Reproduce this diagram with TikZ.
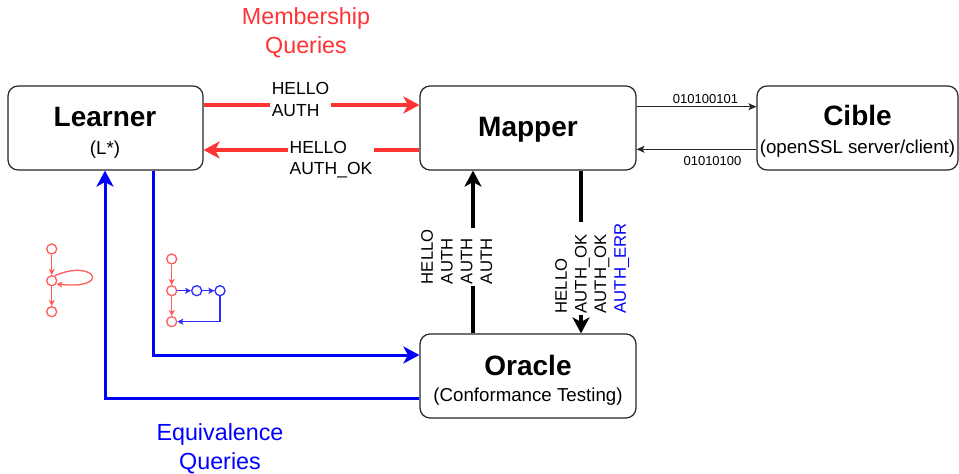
\documentclass[tikz,border=0pt]{standalone}
\usepackage{fontspec}
\setmainfont{Liberation Sans}
\usetikzlibrary{arrows.meta}
\definecolor{qred}{HTML}{FF3333}
\definecolor{qblue}{HTML}{0000FF}
\definecolor{sred}{HTML}{FF5C5C}
\definecolor{sblue}{HTML}{2B2BFF}
\begin{document}
\begin{tikzpicture}[x=1pt,y=-1pt,
  box/.style={draw=black!85, line width=1.2pt, rounded corners=10pt, fill=white, inner sep=0pt},
  title/.style={anchor=base, inner sep=0pt, font=\fontsize{28}{33}\selectfont\bfseries},
  sub/.style={anchor=base, inner sep=0pt, font=\fontsize{18.7}{22}\selectfont},
  qlabel/.style={align=center, inner sep=0pt, font=\fontsize{23.3}{28.5}\selectfont},
  msg/.style={fill=white, inner xsep=1.5pt, inner ysep=1pt, align=left, font=\fontsize{17.5}{21.5}\selectfont},
  vmsg/.style={fill=white, inner xsep=1.5pt, inner ysep=1pt, align=left, rotate=90, font=\fontsize{16.7}{19.7}\selectfont},
  bits/.style={anchor=base, inner sep=0pt, font=\fontsize{13}{15}\selectfont},
  bigtip/.style={-{Stealth[length=16pt,width=17pt,inset=4.5pt]}},
  redarrow/.style={bigtip, draw=qred, line width=4pt},
  bluearrow/.style={bigtip, draw=qblue, line width=3pt},
  blackarrow/.style={bigtip, draw=black, line width=3.5pt},
  thinarrow/.style={-{Stealth[length=8pt,width=7pt,inset=2pt]}, draw=black!85, line width=1pt},
  scirc/.style={circle, minimum size=10pt, inner sep=0pt, line width=1.3pt, fill=white},
  sarrow/.style={-{Stealth[length=6pt,width=6pt,inset=1.5pt]}, line width=1.3pt},
]
\useasboundingbox (0,0) rectangle (959,474);

% component boxes
\node[box, minimum width=195pt, minimum height=84pt] (learner) at (105.5,128) {};
\node[box, minimum width=216pt, minimum height=84pt] (mapper) at (528,128) {};
\node[box, minimum width=201pt, minimum height=84pt] (cible) at (857.5,128) {};
\node[box, minimum width=216pt, minimum height=84pt] (oracle) at (528,376) {};

% box titles
\node[title] (learnerT) at (105,126) {Learner};
\node[sub] (learnerS) at (105,154) {(L*)};
\node[title] (mapperT) at (528,136.5) {Mapper};
\node[title] (cibleT) at (857.5,125.5) {Cible};
\node[sub] (cibleS) at (857.5,153.3) {(openSSL server/client)};
\node[title] (oracleT) at (528,375) {Oracle};
\node[sub] (oracleS) at (528,401.7) {(Conformance Testing)};

% query kinds
\node[qlabel, text=qred] (membQ) at (306,33) {Membership\\Queries};
\node[qlabel, text=qblue] (equivQ) at (220,448.7) {Equivalence\\Queries};

% membership queries between learner and mapper
\draw[redarrow] ([yshift=23pt]learner.east) -- ([yshift=23pt]mapper.west);
\node[msg] (m1) at (300.5,99.4) {HELLO\\AUTH};
\draw[redarrow] ([yshift=-22pt]mapper.west) -- ([yshift=-22pt]learner.east);
\node[msg] (m2) at (331,159.6) {HELLO\\AUTH\_OK};

% concrete messages between mapper and target
\draw[thinarrow] ([yshift=21.3pt]mapper.east) -- ([yshift=21.3pt]cible.west);
\node[bits] (bitsOut) at (705.5,103.3) {010100101};
\draw[thinarrow] ([yshift=-21.3pt]cible.west) -- ([yshift=-21.3pt]mapper.east);
\node[bits] (bitsIn) at (712.5,165) {01010100};

% test traffic between oracle and mapper
\draw[blackarrow] ([xshift=-55pt]oracle.north) -- ([xshift=-55pt]mapper.south);
\node[vmsg] (v1) at (456.7,256.7) {HELLO\\AUTH\\AUTH\\AUTH};
\draw[blackarrow] ([xshift=53pt]mapper.south) -- ([xshift=53pt]oracle.north);
\node[vmsg] (v2) at (592.2,268.3) {HELLO\\AUTH\_OK\\AUTH\_OK\\\textcolor{qblue}{AUTH\_ERR}};

% equivalence queries between learner and oracle
\draw[bluearrow] ([xshift=47.5pt]learner.south) |- ([yshift=21pt]oracle.west);
\draw[bluearrow] ([yshift=-22pt]oracle.west) -| ([xshift=-0.5pt]learner.south);

% hypothesis automaton
\node[scirc, draw=sred] (h1) at (51.7,249) {};
\node[scirc, draw=sred] (h2) at (51.7,280.7) {};
\node[scirc, draw=sred] (h3) at (51.7,311.7) {};
\draw[sarrow, draw=sred] (h1) -- (h2);
\draw[sarrow, draw=sred] (h2) -- (h3);
\draw[sarrow, draw=sred] (h2.60) .. controls (95,258) and (112,290) .. (h2.-35);

% counterexample automaton
\node[scirc, draw=sred] (c1) at (171.7,259) {};
\node[scirc, draw=sred] (c2) at (171.7,290.7) {};
\node[scirc, draw=sred] (c3) at (171.7,321.7) {};
\node[scirc, draw=sblue] (c4) at (196.7,290.7) {};
\node[scirc, draw=sblue] (c5) at (220,290.7) {};
\draw[sarrow, draw=sred] (c1) -- (c2);
\draw[sarrow, draw=sred] (c2) -- (c3);
\draw[sarrow, draw=sblue] (c2) -- (c4);
\draw[sarrow, draw=sblue] (c4) -- (c5);
\draw[sarrow, draw=sblue] (c5.south) |- (c3.east);
\end{tikzpicture}
\end{document}
